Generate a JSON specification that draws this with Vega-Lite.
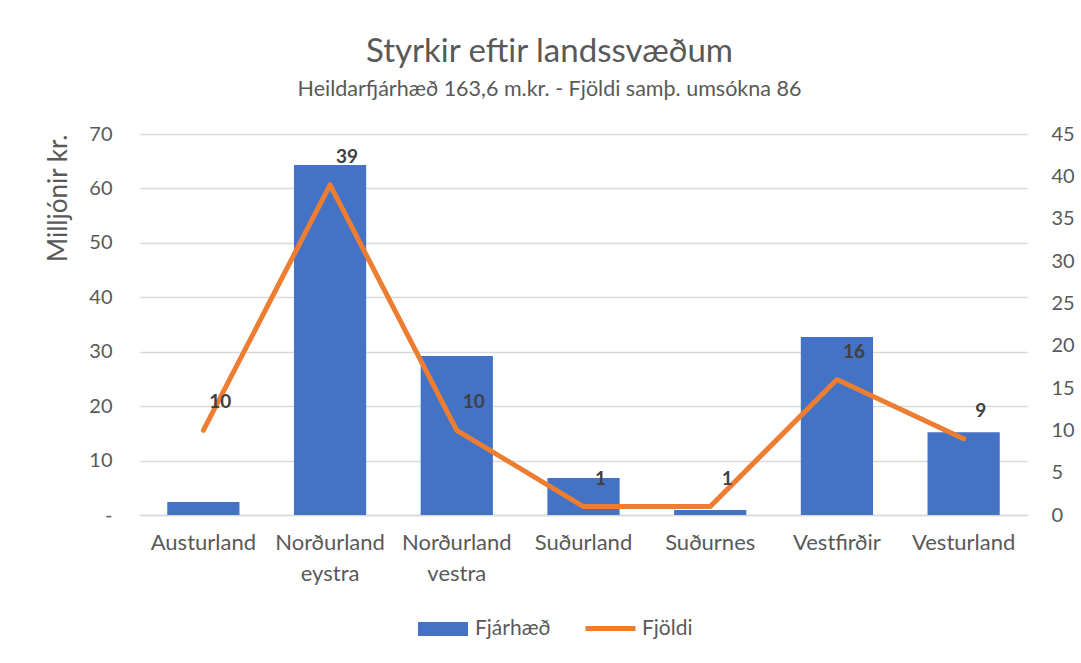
{
  "$schema": "https://vega.github.io/schema/vega-lite/v6.json",
  "width": 887,
  "height": 381,
  "autosize": {"type": "none"},
  "padding": {"left": 140, "top": 134, "right": 54, "bottom": 148},
  "background": "white",
  "title": {
    "text": "Styrkir eftir landssvæðum",
    "subtitle": "Heildarfjárhæð 163,6 m.kr. - Fjöldi samþ. umsókna 86",
    "anchor": "middle",
    "dx": -34,
    "offset": 24,
    "font": "Lato",
    "fontSize": 33,
    "fontWeight": "normal",
    "color": "#595959",
    "subtitleFont": "Lato",
    "subtitleFontSize": 21.5,
    "subtitleColor": "#595959",
    "subtitlePadding": 10
  },
  "config": {
    "font": "Lato",
    "view": {"stroke": null},
    "axis": {
      "labelFont": "Lato",
      "labelColor": "#595959",
      "labelFontSize": 20,
      "titleFont": "Lato",
      "titleColor": "#595959",
      "titleFontWeight": "normal",
      "domain": false,
      "ticks": false
    },
    "legend": {
      "labelFont": "Lato",
      "labelFontSize": 21,
      "labelColor": "#595959",
      "padding": 0
    }
  },
  "data": {
    "values": [
      {"svaedi": "Austurland", "fjarhaed": 2.4, "fjoldi": 10},
      {"svaedi": "Norðurland eystra", "fjarhaed": 64.3, "fjoldi": 39},
      {"svaedi": "Norðurland vestra", "fjarhaed": 29.2, "fjoldi": 10},
      {"svaedi": "Suðurland", "fjarhaed": 6.8, "fjoldi": 1},
      {"svaedi": "Suðurnes", "fjarhaed": 0.9, "fjoldi": 1},
      {"svaedi": "Vestfirðir", "fjarhaed": 32.7, "fjoldi": 16},
      {"svaedi": "Vesturland", "fjarhaed": 15.2, "fjoldi": 9}
    ]
  },
  "encoding": {
    "x": {
      "field": "svaedi",
      "type": "nominal",
      "sort": null,
      "title": null,
      "scale": {"paddingInner": 0.43, "paddingOuter": 0.215},
      "axis": {
        "labelAngle": 0,
        "labelExpr": "split(datum.label, ' ')",
        "labelFontSize": 22,
        "labelPadding": 17,
        "labelLineHeight": 31,
        "domain": true,
        "domainColor": "#D9D9D9",
        "domainWidth": 1.5
      }
    }
  },
  "layer": [
    {
      "mark": {"type": "bar", "color": "#4472C4"},
      "encoding": {
        "y": {
          "field": "fjarhaed",
          "type": "quantitative",
          "scale": {"domain": [0, 70], "nice": false},
          "title": "Milljónir kr.",
          "axis": {
            "values": [0, 10, 20, 30, 40, 50, 60, 70],
            "labelExpr": "datum.value == 0 ? '-' : datum.label",
            "labelPadding": 28,
            "titleFontSize": 26,
            "titlePadding": 17,
            "titleAnchor": "end",
            "grid": true,
            "gridColor": "#D9D9D9",
            "gridWidth": 1.5
          }
        },
        "fill": {
          "datum": "Fjárhæð",
          "scale": {"range": ["#4472C4"]},
          "legend": {
            "orient": "none",
            "legendX": 278,
            "legendY": 470,
            "title": null,
            "labelOffset": 7,
            "symbolType": "M-1,-0.28H1V0.28H-1Z",
            "symbolSize": 2500,
            "symbolStrokeWidth": 0,
            "symbolOpacity": 1
          }
        }
      }
    },
    {
      "encoding": {
        "y": {
          "field": "fjoldi",
          "type": "quantitative",
          "scale": {"domain": [0, 45], "nice": false},
          "title": null,
          "axis": {
            "orient": "right",
            "values": [0, 5, 10, 15, 20, 25, 30, 35, 40, 45],
            "labelPadding": 24,
            "grid": false
          }
        }
      },
      "layer": [
        {
          "mark": {"type": "line", "strokeWidth": 5, "strokeCap": "round", "strokeJoin": "round"},
          "encoding": {
            "stroke": {
              "datum": "Fjöldi",
              "scale": {"range": ["#ED7D31"]},
              "legend": {
                "orient": "none",
                "legendX": 443,
                "legendY": 467,
                "title": null,
                "labelOffset": 4,
                "symbolType": "stroke",
                "symbolSize": 2500,
                "symbolStrokeWidth": 5
              }
            }
          }
        },
        {
          "mark": {
            "type": "text",
            "font": "Lato",
            "fontSize": 19,
            "fontWeight": "bold",
            "color": "#404040",
            "dx": 17,
            "dy": -28
          },
          "encoding": {
            "text": {"field": "fjoldi", "type": "quantitative"}
          }
        }
      ]
    }
  ],
  "resolve": {"scale": {"y": "independent"}}
}
